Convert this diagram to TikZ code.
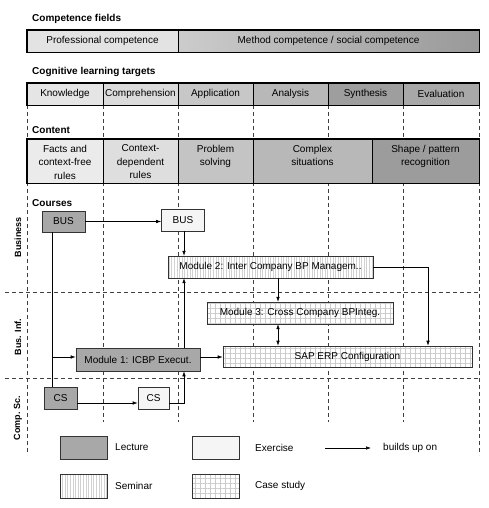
\documentclass[tikz,border=0pt]{standalone}
\usepackage{fontspec}
\setmainfont{Liberation Sans}
\usetikzlibrary{arrows.meta,patterns.meta}

\begin{document}
\begin{tikzpicture}[x=1pt,y=-1pt,
    every node/.style={font=\fontsize{10}{13.5}\selectfont, inner sep=1pt},
    head/.style={anchor=west, font=\fontsize{10}{12}\selectfont\bfseries},
    rowlabel/.style={rotate=90, font=\fontsize{9}{11}\selectfont\bfseries},
    cell/.style={draw, line width=0.6pt, minimum height=22pt, inner sep=0pt},
    guide/.style={draw=black!75, line width=0.6pt, dash pattern=on 4pt off 3pt},
    course/.style={draw=black!80, line width=0.6pt, inner sep=0pt},
    lecture/.style={course, fill=black!34},
    exercise/.style={course, fill=black!4},
    seminar/.style={course, preaction={fill=white}, pattern={Lines[angle=90,distance=2.6pt,line width=0.3pt]}, pattern color=black!18},
    casestudy/.style={course, preaction={fill=white}, pattern={Hatch[angle=0,distance=5pt,line width=0.3pt]}, pattern color=black!20},
    arr/.style={-{Latex[length=5pt,width=3.5pt]}, line width=0.6pt}]

    \useasboundingbox (0,0) rectangle (489,508);

    % Draw the headings
    \node[head] (hcomp) at (31,19) {Competence fields};
    \node[head] (hcogn) at (31,72) {Cognitive learning targets};
    \node[head] (hcont) at (31,130) {Content};
    \node[head] (hcour) at (31,203) {Courses};

    % Draw the dashed guide lines
    \foreach \x in {103,178,253,328,403}
        \draw[guide] (\x,105) -- (\x,422);
    \draw[guide] (27,105) -- (27,455);
    \draw[guide] (479,105) -- (479,455);
    \draw[guide] (5,292) -- (479,292);
    \draw[guide] (5,378) -- (479,378);

    % Draw the competence fields
    \node[cell, fill=black!11, minimum width=151pt] (prof) at (102.5,41) {Professional competence};
    \node[cell, left color=black!20, right color=black!40, minimum width=301pt] (meth) at (328.5,41) {Method competence / social competence};
    \draw[line width=1.4pt] (prof.north west) rectangle (meth.south east);

    % Draw the cognitive learning targets
    \node[cell, fill=black!10, minimum width=76pt] (know) at (65,94) {Knowledge};
    \node[cell, fill=black!14, minimum width=75pt] (compr) at (140.5,94) {Comprehension};
    \node[cell, fill=black!22, minimum width=75pt] (appl) at (215.5,94) {Application};
    \node[cell, fill=black!28, minimum width=75pt] (anal) at (290.5,94) {Analysis};
    \node[cell, fill=black!38, minimum width=75pt] (synth) at (365.5,94) {Synthesis};
    \node[cell, fill=black!34, minimum width=76pt] (eval) at (441,94) {Evaluation};
    \draw[line width=1.4pt] (know.north west) rectangle (eval.south east);

    % Draw the content
    \node[cell, fill=black!8, minimum width=76pt, minimum height=44pt] (fact) at (65,161) {};
    \node[cell, fill=black!13, minimum width=75pt, minimum height=44pt] (ctx) at (140.5,161) {};
    \node[cell, fill=black!23, minimum width=75pt, minimum height=44pt] (prob) at (215.5,161) {};
    \node[cell, fill=black!28, minimum width=119pt, minimum height=44pt] (cplx) at (312.5,161) {};
    \node[cell, fill=black!39, minimum width=107pt, minimum height=44pt] (shape) at (425.5,161) {};
    \draw[line width=1.4pt] (fact.north west) rectangle (shape.south east);
    \node[anchor=north, align=center] at ([yshift=-5pt]fact.north) {Facts and\\context-free\\rules};
    \node[anchor=north, align=center] at ([yshift=-5pt]ctx.north) {Context-\\dependent\\rules};
    \node[anchor=north, align=center] at ([yshift=-5pt]prob.north) {Problem\\solving};
    \node[anchor=north, align=center] at ([yshift=-5pt]cplx.north) {Complex\\situations};
    \node[anchor=north, align=center] at ([yshift=-5pt]shape.north) {Shape / pattern\\recognition};

    % Draw the row labels
    \node[rowlabel] (rbus) at (18,237) {Business};
    \node[rowlabel] (rinf) at (18,337) {Bus. Inf.};
    \node[rowlabel] (rcs) at (18,418) {Comp. Sc.};

    % Draw the courses
    \node[lecture, minimum width=43pt, minimum height=21pt] (bus1) at (63.5,221.5) {BUS};
    \node[exercise, minimum width=43pt, minimum height=22pt] (bus2) at (183,220) {BUS};
    \node[seminar, minimum width=205pt, minimum height=22pt] (mod2) at (270.5,267) {Module 2: Inter Company BP Managem..};
    \node[casestudy, minimum width=186pt, minimum height=22pt] (mod3) at (300,313) {Module 3: Cross Company BPInteg.};
    \node[casestudy, minimum width=249pt, minimum height=21pt] (sap) at (347.5,356.5) {SAP ERP Configuration};
    \node[lecture, minimum width=124pt, minimum height=23pt] (mod1) at (138,359.5) {Module 1: ICBP Execut.};
    \node[lecture, minimum width=33pt, minimum height=22pt] (cs1) at (60.5,398) {CS};
    \node[exercise, minimum width=31pt, minimum height=22pt] (cs2) at (153.5,398) {CS};

    % Draw the dependencies
    \coordinate (trunk) at (52,357);
    \coordinate (colA) at (184,0);
    \coordinate (colB) at (278,0);
    \coordinate (colC) at (428,0);
    \draw[arr] (bus1.east) -- (bus1.east -| bus2.west);
    \draw[arr] (bus2.south -| colA) -- (mod2.north -| colA);
    \draw[line width=0.6pt] (trunk |- bus1.south) -- (trunk |- cs1.north);
    \draw[arr] (trunk) -- (trunk -| mod1.west);
    \draw[arr] (mod1.east |- trunk) -- (trunk -| sap.west);
    \draw[arr] (mod1.north -| colA) -- (mod2.south -| colA);
    \draw[arr] (cs1.east |- 0,403) -- (cs2.west |- 0,403);
    \draw[arr] (cs2.east |- 0,403) -| (mod1.south -| colA);
    \draw[arr] (mod2.south -| colB) -- (mod3.north -| colB);
    \draw[{Latex[length=5pt,width=3.5pt]}-{Latex[length=5pt,width=3.5pt]}, line width=0.6pt] (mod3.south -| colB) -- (sap.north -| colB);
    \draw[arr] (mod2.east) -| (sap.north -| colC);

    % Draw the legend
    \node[lecture, minimum width=47pt, minimum height=23pt] (lgLec) at (83.5,447.5) {};
    \node[anchor=west] (tLec) at (114,447.5) {Lecture};
    \node[exercise, minimum width=47pt, minimum height=23pt] (lgEx) at (215.5,447.5) {};
    \node[anchor=west] (tEx) at (254,447.5) {Exercise};
    \coordinate (lgA) at (325,448);
    \coordinate (lgB) at (371,448);
    \draw[arr] (lgA) -- (lgB);
    \node[anchor=west] (tArr) at (382,447.5) {builds up on};
    \node[seminar, minimum width=47pt, minimum height=24pt] (lgSem) at (83.5,486) {};
    \node[anchor=west] (tSem) at (114,486) {Seminar};
    \node[casestudy, minimum width=47pt, minimum height=24pt] (lgCase) at (215.5,486) {};
    \node[anchor=west] (tCase) at (254,486) {Case study};
\end{tikzpicture}
\end{document}
